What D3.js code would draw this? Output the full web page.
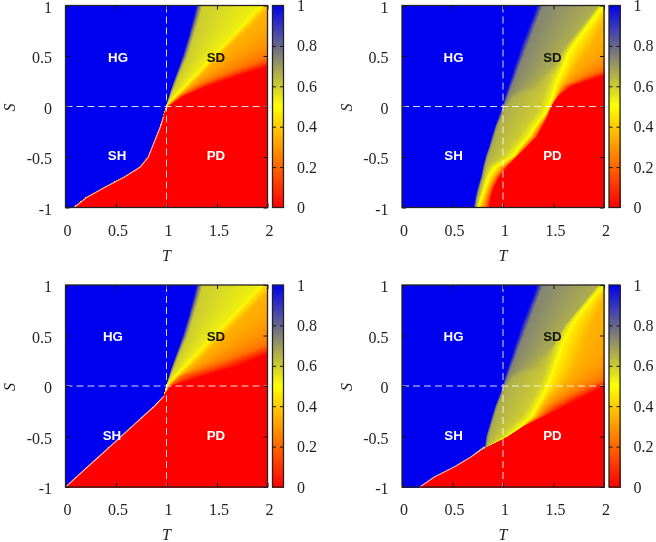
<!DOCTYPE html>
<html><head><meta charset="utf-8">
<script src="https://cdn.jsdelivr.net/npm/d3@7/dist/d3.min.js"></script>
<style>
html,body{margin:0;padding:0;background:#fff;width:656px;height:542px;overflow:hidden}
#wrap{position:relative;width:656px;height:542px}
canvas{position:absolute;left:0;top:0;filter:blur(.6px)}
svg{position:absolute;left:0;top:0}
</style></head><body><div id="wrap"></div>
<script>
const sRows = [-1,-.9,-.8,-.7,-.6,-.5,-.4,-.3,-.2,-.1,0,.1,.2,.3,.4,.5,.6,.7,.8,.9,1];
// value carried by each iso-value curve
const levels = [1,.74,.66,.6,.53,.47,.35,.22,0];
const colorStops = [0,.5,1];
const colorNames = ["#ff0000","#ffff00","#0000f0"];
const xTicks = [0,.5,1,1.5,2];
const yTicks = [-1,-.5,0,.5,1];
const barTicks = [0,.2,.4,.6,.8,1];
const regionNames = ["HG","SD","SH","PD"];

// upper half (S=0..1), shared by the two left panels
const leftUp100 = [1,1.03,1.06,1.095,1.13,1.165,1.195,1.225,1.25,1.275,1.3];
const leftUp74  = [1,1.035,1.07,1.11,1.15,1.19,1.22,1.25,1.28,1.31,1.335];
const leftUp66  = [1,1.04,1.08,1.12,1.16,1.205,1.235,1.265,1.295,1.325,1.35];
const leftUp60  = [1,1.045,1.09,1.13,1.175,1.22,1.25,1.28,1.31,1.34,1.365];
const leftUp53  = [1,1.08,1.18,1.275,1.37,1.465,1.56,1.655,1.75,1.84,1.94];
const leftUp47  = [1.005,1.1,1.2,1.295,1.39,1.485,1.58,1.675,1.77,1.86,1.96];

// panel 1: boundary below S=0, then upper curves
const p1Edge = [.085,.21,.39,.58,.74,.82,.86,.9,.94,.97];
const p1Up35 = [1.01,1.12,1.235,1.34,1.44,1.535,1.635,1.74,1.85,1.95,2.05];
const p1Up22 = [1.02,1.14,1.31,1.54,1.8,2.06,2.35,2.6,2.85,3.1,3.4];
const p1Up00 = [1.03,1.18,1.43,1.72,2.05,2.35,2.65,3,3.3,3.6,3.9];
const p1Curves = [leftUp100,leftUp74,leftUp66,leftUp60,leftUp53,leftUp47,p1Up35,p1Up22,p1Up00].map(u=>[...p1Edge,...u]);

// panel 3
const p3Edge = [0,.11,.22,.33,.44,.55,.66,.77,.88,.975];
const p3Up35 = [1.02,1.13,1.255,1.37,1.47,1.57,1.67,1.78,1.88,1.98,2.08];
const p3Up22 = [1.03,1.15,1.45,1.72,1.98,2.25,2.5,2.8,3.1,3.4,3.7];
const p3Up00 = [1.05,1.38,1.73,1.97,2.25,2.55,2.85,3.15,3.45,3.75,4.05];
const p3Curves = [leftUp100,leftUp74,leftUp66,leftUp60,leftUp53,leftUp47,p3Up35,p3Up22,p3Up00].map(u=>[...p3Edge,...u]);

// panel 2
const p2V100 = [.71,.725,.75,.78,.8,.825,.86,.89,.92,.96,.995,1.02,1.05,1.085,1.115,1.15,1.18,1.22,1.26,1.3,1.33];
const p2V74  = [.725,.74,.765,.795,.815,.84,.875,.905,.935,.975,1.01,1.05,1.09,1.13,1.165,1.205,1.245,1.285,1.32,1.36,1.4];
const p2V66  = [.735,.75,.775,.805,.825,.855,.89,.925,.955,.995,1.04,1.12,1.3,1.4,1.5,1.56,1.62,1.7,1.78,1.86,1.94];
const p2V60  = [.74,.765,.795,.825,.86,1,1.08,1.16,1.22,1.3,1.36,1.4,1.44,1.48,1.55,1.59,1.65,1.73,1.81,1.885,1.965];
const p2V53  = [.75,.78,.815,.845,.91,1.08,1.15,1.24,1.3,1.38,1.44,1.47,1.5,1.54,1.585,1.625,1.68,1.755,1.83,1.905,1.98];
const p2V47  = [.765,.8,.835,.87,.945,1.105,1.18,1.27,1.33,1.41,1.47,1.505,1.54,1.58,1.625,1.665,1.72,1.795,1.87,1.945,2.02];
const p2V35  = [.79,.825,.86,.91,.99,1.12,1.2,1.29,1.35,1.42,1.475,1.53,1.58,1.66,1.72,1.8,1.88,1.93,1.98,2.02,2.07];
const p2V22  = [.83,.855,.89,.94,1.02,1.13,1.225,1.32,1.375,1.435,1.478,1.54,1.62,1.84,2.1,2.35,2.6,2.85,3.1,3.4,3.7];
const p2V00  = [.867,.885,.915,.97,1.045,1.14,1.245,1.34,1.395,1.445,1.48,1.55,1.69,2,2.4,2.7,3,3.3,3.6,3.9,4.2];
const p2Curves = [p2V100,p2V74,p2V66,p2V60,p2V53,p2V47,p2V35,p2V22,p2V00];

// panel 4
const p4Edge = [.175,.32,.52,.685];
const p4V100 = [.82,.83,.86,.89,.92,.96,.995,1.02,1.05,1.085,1.115,1.15,1.18,1.22,1.26,1.3,1.33];
const p4V74  = [.83,.845,.875,.905,.935,.975,1.01,1.05,1.09,1.13,1.165,1.205,1.245,1.285,1.32,1.36,1.4];
const p4V66  = [.84,.86,.89,.925,.955,.995,1.04,1.12,1.3,1.4,1.5,1.56,1.62,1.7,1.78,1.86,1.94];
const p4V60  = [.85,.98,1.08,1.18,1.25,1.31,1.36,1.4,1.44,1.475,1.51,1.56,1.61,1.7,1.79,1.87,1.955];
const p4V53  = [.85,1.03,1.16,1.26,1.32,1.375,1.42,1.465,1.5,1.535,1.57,1.615,1.665,1.735,1.815,1.895,1.985];
const p4V47  = [.85,1.04,1.19,1.295,1.35,1.405,1.45,1.495,1.53,1.565,1.6,1.645,1.695,1.765,1.845,1.925,2.015];
const p4V35  = [.85,1.045,1.195,1.33,1.39,1.47,1.57,1.65,1.72,1.76,1.8,1.84,1.88,1.92,1.97,2.02,2.08];
const p4V22  = [.85,1.048,1.198,1.365,1.48,1.65,1.85,2.08,2.3,2.55,2.8,3,3.3,3.6,3.9,4.2,4.5];
const p4V00  = [.85,1.05,1.205,1.42,1.62,1.82,2.02,2.25,2.5,2.75,3,3.3,3.6,3.9,4.2,4.5,4.8];
const p4Curves = [p4V100,p4V74,p4V66,p4V60,p4V53,p4V47,p4V35,p4V22,p4V00].map(u=>[...p4Edge,...u]);

// pale rim lines along the blue/red jump: how many rows of the curve they follow
const rimRows = [10,0,10,5];

// ---------- drawing ----------
const W=656,H=542,plot=202;
const origins=[[65.5,5.5],[402,5.5],[65.5,285],[402,285]];
const panels=[
 {curves:p1Curves,rim:rimRows[0],hx:.52,sx:.51},
 {curves:p2Curves,rim:rimRows[1],hx:.51,sx:.51},
 {curves:p3Curves,rim:rimRows[2],hx:.47,sx:.46},
 {curves:p4Curves,rim:rimRows[3],hx:.51,sx:.51}];
const color=d3.scaleLinear().domain(colorStops).range(colorNames).interpolate(d3.interpolateRgb);
const x=d3.scaleLinear().domain([0,2]).range([0,plot]);
const y=d3.scaleLinear().domain([-1,1]).range([plot,0]);
const barY=d3.scaleLinear().domain([0,1]).range([plot,0]);

const wrap=d3.select("#wrap");
const canvas=wrap.append("canvas").attr("width",W).attr("height",H).node();
const ctx=canvas.getContext("2d");
const svg=wrap.append("svg").attr("width",W).attr("height",H);
const img=ctx.createImageData(W,H);
function put(px,py,v){
  const c=d3.rgb(color(v)),i=(py*W+px)*4;
  img.data[i]=c.r;img.data[i+1]=c.g;img.data[i+2]=c.b;img.data[i+3]=255;
}
panels.forEach((p,k)=>{
  const [ox,oy]=origins[k];
  const oxI=Math.floor(ox),oyI=Math.floor(oy);
  const curveAt=p.curves.map(c=>d3.scaleLinear().domain(sRows).range(c));
  for(let r=0;r<=plot;r++){
    const s=y.invert(r+.5);
    const ts=curveAt.map(f=>f(s));
    // keep the crossing points strictly ascending so the value scale can be inverted
    for(let i=1;i<ts.length;i++) ts[i]=Math.max(ts[i],ts[i-1]+1e-4);
    const val=d3.scaleLinear().domain(ts).range(levels).clamp(true);
    for(let q=0;q<=plot;q++){
      const t=x.invert(q+.5);
      put(oxI+q,oyI+r,val(t));
    }
  }
  // colour bar
  const bx=oxI+207;
  for(let r=0;r<=plot;r++){
    const v=barY.invert(r+.5);
    for(let q=0;q<12;q++) put(bx+q,oyI+r,Math.min(1,Math.max(0,v)));
  }

  const g=svg.append("g").attr("transform",`translate(${ox},${oy})`);
  // rim line
  if(p.rim>0){
    const edge=p.curves[0].slice(0,p.rim);
    g.append("path").datum(edge)
      .attr("d",d3.line().x(d=>x(d)).y((d,i)=>y(sRows[i])))
      .attr("fill","none").attr("stroke","#f6d8b8").attr("stroke-width",1.2).attr("opacity",.85);
  }
  // dashed guides
  g.append("line").attr("x1",x(1)).attr("x2",x(1)).attr("y1",0).attr("y2",plot)
    .attr("stroke","#fff").attr("stroke-opacity",.85).attr("stroke-width",1).attr("stroke-dasharray","7 4");
  g.append("line").attr("x1",0).attr("x2",plot).attr("y1",y(0)).attr("y2",y(0))
    .attr("stroke","#fff").attr("stroke-opacity",.85).attr("stroke-width",1).attr("stroke-dasharray","7 4");
  // ticks on all four sides
  const axes=[
    [d3.axisBottom(x).tickValues(xTicks).tickSize(-4).tickFormat(""),`translate(0,${plot})`],
    [d3.axisTop(x).tickValues(xTicks).tickSize(-4).tickFormat(""),`translate(0,0)`],
    [d3.axisLeft(y).tickValues(yTicks).tickSize(-4).tickFormat(""),`translate(0,0)`],
    [d3.axisRight(y).tickValues(yTicks).tickSize(-4).tickFormat(""),`translate(${plot},0)`]];
  axes.forEach(([a,t])=>{
    const ag=g.append("g").attr("transform",t).call(a);
    ag.select(".domain").remove();
    ag.selectAll("line").attr("stroke","#111").attr("stroke-width",1);
  });
  g.append("rect").attr("width",plot).attr("height",plot).attr("fill","none").attr("stroke","#222").attr("stroke-width",1.3);
  // tick labels
  const serif="'Liberation Serif',serif";
  g.selectAll(".xl").data(xTicks).join("text").attr("x",d=>x(d)+2).attr("y",plot+28)
    .attr("text-anchor","middle").attr("font-family",serif).attr("font-size",16).attr("fill","#222").text(d=>String(d));
  g.selectAll(".yl").data(yTicks).join("text").attr("x",-13.5).attr("y",d=>y(d)+7)
    .attr("text-anchor","end").attr("font-family",serif).attr("font-size",16).attr("fill","#222").text(d=>String(d));
  g.append("text").attr("x",x(1)).attr("y",plot+53).attr("text-anchor","middle").attr("font-family",serif)
    .attr("font-style","italic").attr("font-size",16).attr("fill","#222").text("T");
  g.append("text").attr("transform",`translate(-50.5,${y(0)+1}) rotate(-90)`).attr("text-anchor","middle").attr("font-family",serif)
    .attr("font-style","italic").attr("font-size",16).attr("fill","#222").text("S");
  // region names
  const sans="'Liberation Sans',sans-serif";
  const spots=[[p.hx,.49],[1.49,.49],[p.sx,-.49],[1.49,-.49]];
  regionNames.forEach((n,i)=>{
    g.append("text").attr("x",x(spots[i][0])).attr("y",y(spots[i][1])+4.5).attr("text-anchor","middle")
      .attr("font-family",sans).attr("font-weight","bold").attr("font-size",13.3)
      .attr("fill",n==="SD"?"#111":"#fff").text(n);
  });
  // colour bar frame, ticks, labels
  const b=svg.append("g").attr("transform",`translate(${ox+207},${oy})`);
  [[d3.axisLeft(barY),0],[d3.axisRight(barY),11]].forEach(([a,tx])=>{
    const ag=b.append("g").attr("transform",`translate(${tx},0)`).call(a.tickValues(barTicks.slice(1,-1)).tickSize(tx?3.5:-3.5).tickFormat(""));
    ag.select(".domain").remove();
    ag.selectAll("line").attr("stroke","#111").attr("stroke-width",1);
    if(tx) ag.selectAll("line").attr("x2",-3.5);
  });
  b.append("rect").attr("width",11).attr("height",plot).attr("fill","none").attr("stroke","#222").attr("stroke-width",1.3);
  b.selectAll(".bl").data(barTicks).join("text").attr("x",24.5).attr("y",d=>barY(d)+5.5)
    .attr("font-family",serif).attr("font-size",16).attr("fill","#222").text(d=>String(d));
});
ctx.putImageData(img,0,0);
</script></body></html>
